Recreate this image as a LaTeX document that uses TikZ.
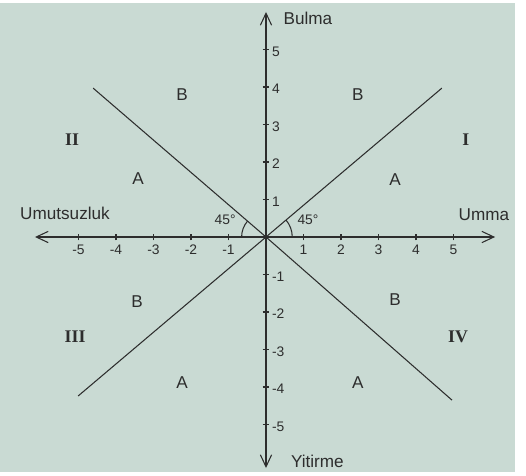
\documentclass[tikz,border=0pt]{standalone}
\usepackage{fontspec}
\setmainfont{Liberation Sans}
\newfontfamily\romfont{Liberation Serif}
\usetikzlibrary{arrows.meta,positioning}
\definecolor{bgcol}{RGB}{201,218,211}
\definecolor{inkcol}{RGB}{45,45,45}

\begin{document}
\begin{tikzpicture}[>={Straight Barb[length=3.2mm,width=3mm]},
axis/.style={->,draw=inkcol,line width=0.8pt},
divline/.style={draw=inkcol,line width=0.8pt},
region/.style={font=\fontsize{13}{15}\selectfont,text=inkcol},
quad/.style={font=\romfont\bfseries\fontsize{13.5}{15}\selectfont,text=inkcol},
axlabel/.style={font=\fontsize{13}{15}\selectfont,text=inkcol,inner sep=1pt},
ticklab/.style={font=\fontsize{10.5}{12}\selectfont,text=inkcol,inner sep=1pt}]
% page and background
\useasboundingbox (-7.093,-6.347) rectangle (6.933,6.32);
\fill[white] (-7.093,-6.347) rectangle (6.933,6.32);
\fill[bgcol] (-7.093,-6.27) rectangle (6.64,6.24);

\coordinate (O) at (0,0);
\coordinate (xl) at (-6.16,0);
\coordinate (xr) at (6.11,0);
\coordinate (yt) at (0,6.0);
\coordinate (yb) at (0,-6.16);

% axes
\draw[axis] (O) -- (xr);
\draw[axis] (O) -- (xl);
\draw[axis] (O) -- (yt);
\draw[axis] (O) -- (yb);

% ticks
\foreach \k in {-5,...,-1,1,2,...,5}{
  \draw[divline] (\k,-0.09) -- (\k,0.09);
  \node[ticklab] (tx\k) at (\k,-0.35) {\k};
  \draw[divline] (-0.09,\k) -- (0.09,\k);
  \node[ticklab,anchor=west] (ty\k) at (0.12,\k-0.05) {\k};
}

% dividing lines
\coordinate (ur) at (4.69,3.97);
\coordinate (ul) at (-4.61,3.97);
\coordinate (ll) at (-5.01,-4.24);
\coordinate (lr) at (4.96,-4.35);
\draw[divline] (O) -- (ur);
\draw[divline] (O) -- (ul);
\draw[divline] (O) -- (ll);
\draw[divline] (O) -- (lr);

% angle marks
\draw[divline] (0.7,0) arc[start angle=0,end angle=40.3,radius=0.7];
\draw[divline] (-0.65,0) arc[start angle=180,end angle=139.3,radius=0.65];
\node[ticklab] (angl) at (-1.09,0.45) {45°};
\node[ticklab] (angr) at (1.12,0.45) {45°};

% axis names
\node[axlabel,anchor=west] (bulma) at (0.43,5.84) {Bulma};
\node[axlabel] (umma) at (5.81,0.59) {Umma};
\node[axlabel] (umut) at (-5.36,0.64) {Umutsuzluk};
\node[axlabel] (yitir) at (1.37,-5.97) {Yitirme};

% quadrants
\node[quad] (q1) at (5.33,2.59) {I};
\node[quad] (q2) at (-5.17,2.59) {II};
\node[quad] (q3) at (-5.09,-2.67) {III};
\node[quad] (q4) at (5.12,-2.67) {IV};

% regions
\node[region] (b1) at (2.45,3.79) {B};
\node[region] (a1) at (3.44,1.52) {A};
\node[region] (b2) at (-2.24,3.79) {B};
\node[region] (a2) at (-3.41,1.57) {A};
\node[region] (b3) at (-3.44,-1.73) {B};
\node[region] (a3) at (-2.24,-3.89) {A};
\node[region] (b4) at (3.44,-1.68) {B};
\node[region] (a4) at (2.45,-3.89) {A};
\end{tikzpicture}
\end{document}
